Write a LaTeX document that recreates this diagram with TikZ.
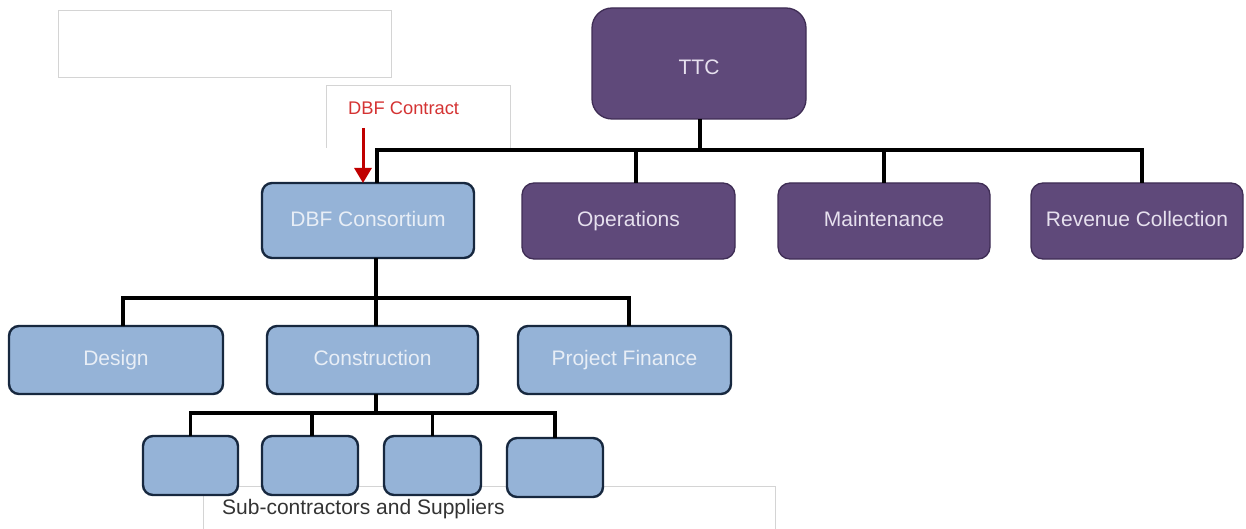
\documentclass[tikz,border=0pt]{standalone}
\usepackage{fontspec}
\setmainfont{Liberation Sans}
\usetikzlibrary{arrows.meta}
\definecolor{ttcpurple}{HTML}{5F497A}
\definecolor{purpleborder}{HTML}{3F2D55}
\definecolor{purpletext}{HTML}{E6E0EE}
\definecolor{bluefill}{HTML}{95B3D7}
\definecolor{blueborder}{HTML}{17283F}
\definecolor{bluetext}{HTML}{E8EEF6}
\definecolor{contractred}{HTML}{C00000}
\definecolor{labelred}{HTML}{D43333}
\definecolor{framegray}{HTML}{D4D4D4}
\definecolor{subtext}{HTML}{333333}
\tikzset{
  x=1pt, y=-1pt,
  basebox/.style={rectangle, inner sep=0pt, outer sep=0pt, align=center,
    text height=15pt, text depth=4pt,
    font=\fontsize{21}{25}\selectfont},
  purplebox/.style={basebox, rounded corners=12pt, fill=ttcpurple, draw=purpleborder,
    line width=1.3pt, text=purpletext},
  bluebox/.style={basebox, rounded corners=10pt, fill=bluefill, draw=blueborder,
    line width=2.4pt, text=bluetext},
  conn/.style={draw=black, line width=3.4pt},
  frame/.style={draw=framegray, line width=0.9pt},
  redarrow/.style={draw=contractred, line width=3pt,
    -{Triangle[width=17pt,length=15pt]}},
}
\begin{document}
\begin{tikzpicture}
\useasboundingbox (0,0) rectangle (1246,529);

% light frames
\draw[frame] (58,10) rectangle (391,77);
\draw[frame] (326,148) -- (326,85) -- (510,85) -- (510,148);
\node[anchor=west, inner sep=0pt, text=labelred, font=\fontsize{18.3}{22}\selectfont]
  (contractlbl) at (348,108) {DBF Contract};
\draw[frame] (203,529) -- (203,486) -- (775,486) -- (775,529);
\node[anchor=west, inner sep=0pt, text=subtext, font=\fontsize{21}{25}\selectfont]
  (sublbl) at (222,509) {Sub-contractors and Suppliers};

% bus coordinates
\coordinate (busA) at (700,150);
\coordinate (busB) at (376,298);
\coordinate (busC) at (376,413);
\coordinate (arrowstart) at (363,128);

% nodes
\node[purplebox, rounded corners=20pt, minimum width=214pt, minimum height=111pt, text height=26pt] (ttc) at (699,63.5) {TTC};
\node[purplebox, minimum width=213pt, minimum height=76pt] (ops) at (628.5,221) {Operations};
\node[purplebox, minimum width=212pt, minimum height=76pt] (mnt) at (884,221) {Maintenance};
\node[purplebox, minimum width=212pt, minimum height=76pt] (rev) at (1137,221) {Revenue Collection};
\node[bluebox, minimum width=212pt, minimum height=75pt] (dbf) at (368,220.5) {DBF Consortium};
\node[bluebox, minimum width=214pt, minimum height=68pt] (design) at (116,360) {Design};
\node[bluebox, minimum width=211pt, minimum height=68pt] (cons) at (372.5,360) {Construction};
\node[bluebox, minimum width=213pt, minimum height=68pt] (pf) at (624.5,360) {Project Finance};
\node[bluebox, minimum width=95pt, minimum height=59pt] (s1) at (190.5,465.5) {};
\node[bluebox, minimum width=96pt, minimum height=59pt] (s2) at (310,465.5) {};
\node[bluebox, minimum width=97pt, minimum height=59pt] (s3) at (432.5,465.5) {};
\node[bluebox, minimum width=96pt, minimum height=59pt] (s4) at (555,467.5) {};

% TTC bus
\draw[conn] (ttc.south -| busA) -- (busA);
\draw[conn] ([xshift=9pt]dbf.north) |- ([xshift=5pt]rev.north |- busA) -- ([xshift=5pt]rev.north);
\draw[conn] ([xshift=7.5pt]ops.north |- busA) -- ([xshift=7.5pt]ops.north);
\draw[conn] (mnt.north |- busA) -- (mnt.north);

% DBF bus
\draw[conn] (dbf.south -| busB) -- (busB);
\draw[conn] ([xshift=7pt]design.north) |- ([xshift=4.5pt]pf.north |- busB) -- ([xshift=4.5pt]pf.north);
\draw[conn] (cons.north -| busB) -- (busB);

% Construction bus
\draw[conn] (cons.south -| busC) -- (busC);
\draw[conn] (s1.north) |- (s4.north |- busC) -- (s4.north);
\draw[conn] ([xshift=2pt]s2.north |- busC) -- ([xshift=2pt]s2.north);
\draw[conn] (s3.north |- busC) -- (s3.north);

% red arrow
\draw[redarrow] (arrowstart) -- (arrowstart |- dbf.north);
\end{tikzpicture}
\end{document}
